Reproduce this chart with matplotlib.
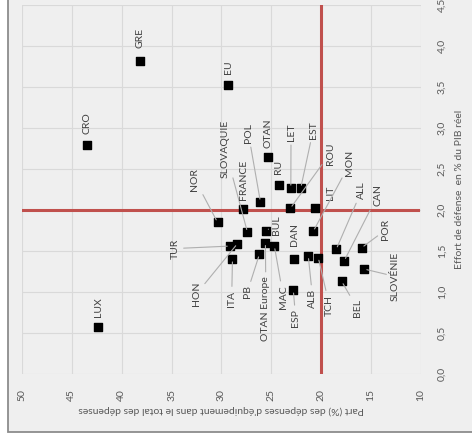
import matplotlib.pyplot as plt
from matplotlib.patches import Rectangle

plt.rcParams['font.family'] = ['Lato', 'DejaVu Sans']

# part des dépenses d'équipement (%) et effort de défense (% PIB)
pays = ["GRE", "EU", "CRO", "LUX", "NOR", "SLOVAQUIE", "FRANCE", "POL", "OTAN",
        "RU", "LET", "EST", "ROU", "LIT", "MON", "ALL", "CAN", "POR", "SLOVÉNIE",
        "BEL", "TCH", "ALB", "ESP", "DAN", "MAC", "OTAN Europe", "BUL", "PB",
        "ITA", "HON", "TUR"]
equipement = [38.2, 29.3, 43.45, 42.4, 30.4, 27.4, 27.8, 26.1, 25.3,
              24.25, 23.05, 22.05, 23.1, 20.65, 20.8, 18.5, 17.7, 15.95, 15.7,
              17.95, 20.3, 21.3, 22.8, 22.75, 24.7, 25.6, 25.55, 26.2,
              28.9, 28.4, 29.15]
effort = [3.82, 3.52, 2.79, 0.57, 1.85, 1.73, 2.01, 2.10, 2.65,
          2.30, 2.27, 2.27, 2.02, 2.03, 1.74, 1.52, 1.38, 1.54, 1.28,
          1.13, 1.42, 1.44, 1.02, 1.40, 1.56, 1.60, 1.75, 1.46,
          1.40, 1.59, 1.56]
# position des étiquettes (mêmes unités)
lab_x = [38.22, 29.25, 43.45, 42.38, 32.66, 29.62, 27.81, 27.31, 25.31,
         24.24, 23.03, 20.80, 19.12, 19.12, 17.12, 15.94, 14.34, 13.51, 12.61,
         16.39, 19.19, 20.86, 22.56, 22.73, 23.80, 25.54, 24.44, 27.41,
         28.98, 32.49, 34.66]
lab_y = [4.10, 3.74, 3.06, 0.82, 2.37, 2.74, 2.37, 2.94, 2.94,
         2.53, 2.95, 2.98, 2.69, 2.21, 2.57, 2.24, 2.18, 1.76, 1.19,
         0.80, 0.84, 0.92, 0.68, 1.70, 0.94, 0.80, 1.82, 1.00,
         0.92, 0.98, 1.53]
sans_trait = ["GRE", "EU", "CRO", "LUX", "FRANCE", "OTAN", "RU", "LIT", "DAN"]

seuil_x = 20
seuil_y = 2.0

fig = plt.figure(figsize=(4.72, 4.37), dpi=100)
fig.patch.set_facecolor('white')
fig.patches.append(Rectangle((8 / 472, 5 / 437), 1.2, 1.2, transform=fig.transFigure,
                             facecolor='#EFEFEF', edgecolor='#8C8C8C', lw=1.3, zorder=-10))
ax = fig.add_axes([22 / 472, 63 / 437, 399 / 472, 369 / 437])
ax.set_facecolor('#EFEFEF')

ax.set_xlim(50, 10)
ax.set_ylim(0, 4.5)
ax.set_xticks(range(50, 9, -5))
ax.set_xticklabels([str(v) for v in range(50, 9, -5)], rotation=90)
yt = [i * 0.5 for i in range(10)]
ax.set_yticks(yt)
ax.set_yticklabels([f"{v:.1f}".replace('.', ',') for v in yt], rotation=90, va='center')
ax.yaxis.tick_right()
ax.yaxis.set_label_position('right')
ax.tick_params(length=0, labelsize=7.5, labelcolor='#595959')
ax.tick_params(axis='x', pad=11)
ax.tick_params(axis='y', pad=12)
ax.grid(True, color='#D9D9D9', lw=0.8)
ax.set_axisbelow(True)
for s in ax.spines.values():
    s.set_visible(False)

ax.set_xlabel("Part (%) des dépenses d'équipement dans le total des dépenses",
              rotation=180, fontsize=7.5, color='#595959', labelpad=3)
ax.set_ylabel("Effort de défense  en % du PIB réel", fontsize=7.5, color='#595959',
              labelpad=6)

ax.plot([50, 10.3], [seuil_y, seuil_y], color='#C0504D', lw=2.2, zorder=2)
ax.plot([seuil_x, seuil_x], [0, 4.5], color='#C0504D', lw=2.2, zorder=2)

ax.scatter(equipement, effort, marker='s', s=30, color='black', zorder=4)

for p, x, y, tx, ty in zip(pays, equipement, effort, lab_x, lab_y):
    if p in sans_trait:
        ax.text(tx, ty, p, rotation=90, ha='center', va='center', fontsize=7.5,
                color='#404040', zorder=5)
    else:
        ax.annotate(p, xy=(x, y), xytext=(tx, ty), rotation=90, ha='center',
                    va='center', fontsize=7.5, color='#404040', zorder=5,
                    arrowprops=dict(arrowstyle='-', color='#AFAFAF', lw=0.8,
                                    shrinkA=1, shrinkB=2))

fig.savefig('out.png', dpi=100)
